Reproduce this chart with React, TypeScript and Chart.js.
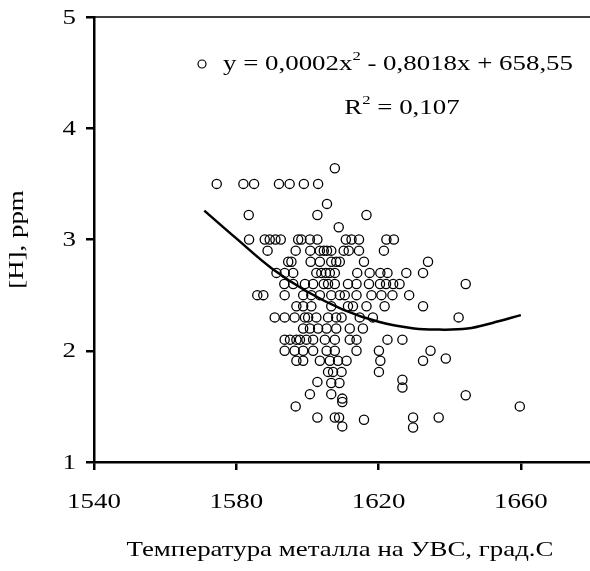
import React, { useEffect, useRef } from "react";
import { Chart, registerables } from "chart.js";

Chart.register(...registerables);

// ---- data ----
const X_TICKS = [1540, 1580, 1620, 1660];
const Y_TICKS = [1, 2, 3, 4, 5];

const TEMP_C = [
  1607.7,
  1574.5, 1582, 1585, 1592, 1595, 1599, 1603,
  1605.5,
  1583.5, 1602.8, 1616.6,
  1608.8,
  1583.6, 1588, 1589.4, 1591, 1592.5, 1597.4, 1598.3, 1600.7, 1602.8, 1610.8, 1612.4, 1614.5, 1622.2, 1624.3,
  1588.8, 1596.7, 1600.8, 1603.5, 1604.6, 1605.5, 1606.7, 1610.2, 1611.6, 1614.5, 1621.5,
  1594.6, 1595.5, 1600.9, 1603.5, 1606.7, 1608.1, 1609.1, 1615.9, 1633.9,
  1591.3, 1593.6, 1596, 1602.5, 1603.9, 1605.2, 1606.3, 1607.7, 1614, 1617.5, 1620.5, 1622.5, 1627.8, 1632.5,
  1593.5, 1596, 1599.3, 1601.6, 1604.6, 1605.8, 1607.7, 1611.4, 1613.8, 1617.3, 1620.4, 1622.1, 1624.1, 1625.9, 1644.5,
  1585.9, 1587.6, 1593.6, 1598.8, 1601.1, 1603.5, 1606.7, 1609.1, 1610.5, 1613.8, 1618, 1620.8, 1623.9, 1628.6,
  1596.9, 1598.8, 1601.1, 1606.7, 1611.4, 1612.8, 1616.6, 1621.7, 1632.5,
  1590.8, 1593.6, 1596.4, 1599.3, 1600.2, 1602.5, 1605.8, 1608.1, 1609.6, 1614.7, 1618.4, 1642.5,
  1598.8, 1600.7, 1603, 1605.4, 1608.1, 1611.9, 1615.6,
  1593.6, 1595.1, 1596.9, 1597.9, 1599.7, 1601.6, 1604.9, 1607.7, 1611.9, 1613.8, 1622.5, 1626.7,
  1593.6, 1596.4, 1598.8, 1601.6, 1605.4, 1607.7, 1613.8, 1620.1, 1634.6,
  1596.9, 1598.8, 1603.5, 1606.3, 1608.6, 1611, 1620.5, 1632.5, 1638.9,
  1605.8, 1607.2, 1609.6, 1620.1,
  1602.8, 1606.7, 1609, 1626.7, 1626.7,
  1600.7, 1606.7, 1609.8, 1609.8, 1644.5,
  1596.7, 1659.7,
  1602.8, 1607.7, 1608.9, 1615.9, 1629.7, 1636.9,
  1609.8, 1629.7,
];

const H_PPM = [
  3.64,
  3.5, 3.5, 3.5, 3.5, 3.5, 3.5, 3.5,
  3.32,
  3.22, 3.22, 3.22,
  3.11,
  3.0, 3.0, 3.0, 3.0, 3.0, 3.0, 3.0, 3.0, 3.0, 3.0, 3.0, 3.0, 3.0, 3.0,
  2.9, 2.9, 2.9, 2.9, 2.9, 2.9, 2.9, 2.9, 2.9, 2.9, 2.9,
  2.8, 2.8, 2.8, 2.8, 2.8, 2.8, 2.8, 2.8, 2.8,
  2.7, 2.7, 2.7, 2.7, 2.7, 2.7, 2.7, 2.7, 2.7, 2.7, 2.7, 2.7, 2.7, 2.7,
  2.6, 2.6, 2.6, 2.6, 2.6, 2.6, 2.6, 2.6, 2.6, 2.6, 2.6, 2.6, 2.6, 2.6, 2.6,
  2.5, 2.5, 2.5, 2.5, 2.5, 2.5, 2.5, 2.5, 2.5, 2.5, 2.5, 2.5, 2.5, 2.5,
  2.4, 2.4, 2.4, 2.4, 2.4, 2.4, 2.4, 2.4, 2.4,
  2.3, 2.3, 2.3, 2.3, 2.3, 2.3, 2.3, 2.3, 2.3, 2.3, 2.3, 2.3,
  2.2, 2.2, 2.2, 2.2, 2.2, 2.2, 2.2,
  2.1, 2.1, 2.1, 2.1, 2.1, 2.1, 2.1, 2.1, 2.1, 2.1, 2.1, 2.1,
  2.0, 2.0, 2.0, 2.0, 2.0, 2.0, 2.0, 2.0, 2.0,
  1.91, 1.91, 1.91, 1.91, 1.91, 1.91, 1.91, 1.91, 1.93,
  1.81, 1.81, 1.81, 1.81,
  1.72, 1.71, 1.71, 1.74, 1.67,
  1.61, 1.61, 1.57, 1.54, 1.6,
  1.5, 1.5,
  1.4, 1.4, 1.4, 1.38, 1.4, 1.4,
  1.32, 1.31,
];

const TREND_X = [1571, 1580, 1590, 1600, 1610, 1620, 1630, 1637, 1645, 1652, 1660];
const TREND_Y = [3.26, 3.01, 2.74, 2.53, 2.37, 2.26, 2.2, 2.19, 2.2, 2.25, 2.32];

const EQUATION_PARTS: [string, boolean][] = [
  ["y = 0,0002x", false],
  ["2", true],
  [" - 0,8018x + 658,55", false],
];
const R2_PARTS: [string, boolean][] = [
  ["R", false],
  ["2", true],
  [" = 0,107", false],
];
const X_TITLE = "Температура металла на УВС, град.С";
const Y_TITLE = "[H], ppm";

const FONT_FAMILY = '"Liberation Serif", "Times New Roman", serif';
const FONT_SIZE = 21;
const STRETCH = 1.28;

function font(size: number) {
  return `${size}px ${FONT_FAMILY}`;
}

function stretchedText(
  ctx: CanvasRenderingContext2D,
  text: string,
  x: number,
  y: number,
  align: CanvasTextAlign,
  size: number,
  rotate = 0
) {
  ctx.save();
  ctx.translate(x, y);
  if (rotate) ctx.rotate(rotate);
  ctx.scale(STRETCH, 1);
  ctx.font = font(size);
  ctx.textAlign = align;
  ctx.textBaseline = "middle";
  ctx.fillText(text, 0, 0);
  ctx.restore();
}

function drawRich(ctx: CanvasRenderingContext2D, cx: number, cy: number, parts: [string, boolean][], size: number) {
  const small = Math.round(size * 0.62);
  let total = 0;
  const widths = parts.map(([t, sup]) => {
    ctx.font = font(sup ? small : size);
    const w = ctx.measureText(t).width * STRETCH;
    total += w;
    return w;
  });
  let x = cx - total / 2;
  parts.forEach(([t, sup], i) => {
    stretchedText(ctx, t, x, sup ? cy - size * 0.36 : cy, "left", sup ? small : size);
    x += widths[i];
  });
}

const overlay = {
  id: "overlay",
  afterDraw(chart: any) {
    const { ctx, chartArea, scales } = chart;
    ctx.save();
    ctx.strokeStyle = "#000";
    ctx.fillStyle = "#000";
    ctx.lineWidth = 1.5;
    ctx.beginPath();
    ctx.moveTo(chartArea.left, chartArea.top);
    ctx.lineTo(chartArea.right, chartArea.top);
    ctx.stroke();

    // tick labels
    X_TICKS.forEach((v) => {
      stretchedText(ctx, String(v), scales.x.getPixelForValue(v), 502, "center", FONT_SIZE);
    });
    Y_TICKS.forEach((v) => {
      stretchedText(ctx, String(v), 76, scales.y.getPixelForValue(v) + 1, "right", FONT_SIZE);
    });

    // axis titles
    stretchedText(ctx, X_TITLE, 340, 550, "center", FONT_SIZE);
    stretchedText(ctx, Y_TITLE, 17, (chartArea.top + chartArea.bottom) / 2, "center", FONT_SIZE, -Math.PI / 2);

    // legend marker + trendline label
    ctx.lineWidth = 1.2;
    ctx.beginPath();
    ctx.arc(202, 64, 4, 0, Math.PI * 2);
    ctx.stroke();
    ctx.fillStyle = "#000";
    drawRich(ctx, 398, 64, EQUATION_PARTS, FONT_SIZE);
    drawRich(ctx, 402, 108, R2_PARTS, FONT_SIZE);
    ctx.restore();
  },
};

export default function App() {
  const ref = useRef<HTMLCanvasElement | null>(null);

  useEffect(() => {
    if (!ref.current) return;
    const points = TEMP_C.map((x, i) => ({ x, y: H_PPM[i] }));
    const trend = TREND_X.map((x, i) => ({ x, y: TREND_Y[i] }));
    const chart = new Chart(ref.current, {
      type: "scatter",
      data: {
        datasets: [
          {
            type: "line",
            data: trend,
            borderColor: "#000",
            borderWidth: 2.5,
            pointRadius: 0,
            tension: 0.4,
            fill: false,
            order: 0,
          } as any,
          {
            data: points,
            pointStyle: "circle",
            pointRadius: 4.6,
            borderColor: "#000",
            borderWidth: 1.3,
            backgroundColor: "rgba(0,0,0,0)",
            order: 1,
          },
        ],
      },
      options: {
        animation: false,
        responsive: false,
        devicePixelRatio: 1,
        layout: { padding: { top: 17, right: 8, left: 0, bottom: 0 } },
        plugins: {
          legend: { display: false },
          tooltip: { enabled: false },
        },
        scales: {
          x: {
            type: "linear",
            min: 1540,
            max: 1680,
            afterBuildTicks: (scale: any) => {
              scale.ticks = X_TICKS.map((v) => ({ value: v }));
            },
            afterFit: (scale: any) => {
              scale.height = 571 - 462;
            },
            ticks: { display: false },
            grid: {
              drawOnChartArea: false,
              drawTicks: true,
              tickLength: 8,
              color: "#000",
              lineWidth: 2.5,
            },
            border: { display: true, color: "#000", width: 2.5 },
          },
          y: {
            type: "linear",
            min: 1,
            max: 5,
            afterBuildTicks: (scale: any) => {
              scale.ticks = Y_TICKS.map((v) => ({ value: v }));
            },
            afterFit: (scale: any) => {
              scale.width = 94;
            },
            ticks: { display: false },
            grid: {
              drawOnChartArea: false,
              drawTicks: true,
              tickLength: 8,
              color: "#000",
              lineWidth: 2.5,
            },
            border: { display: true, color: "#000", width: 2.5 },
          },
        },
      },
      plugins: [overlay],
    });
    return () => chart.destroy();
  }, []);

  return (
    <div style={{ position: "fixed", left: 0, top: 0, width: 600, height: 571, background: "#fff" }}>
      <canvas ref={ref} width={600} height={571} style={{ display: "block", width: 600, height: 571 }} />
    </div>
  );
}
